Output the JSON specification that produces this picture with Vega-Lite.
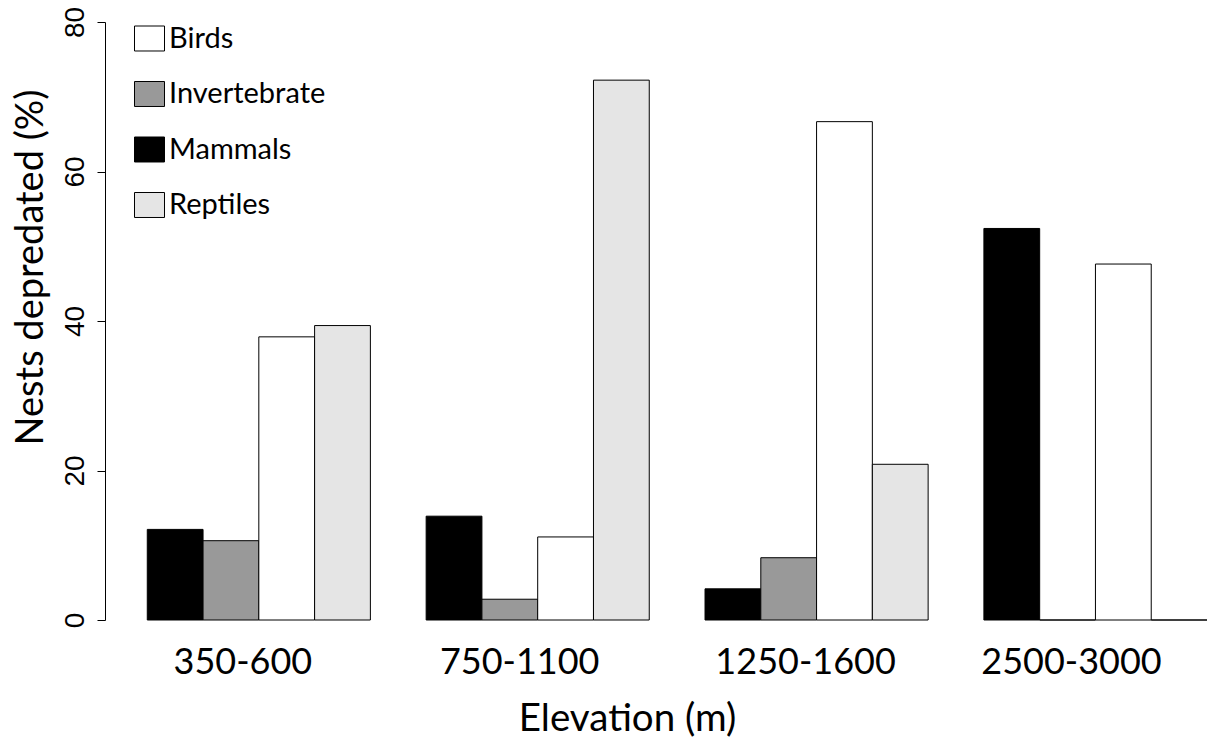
{
  "$schema": "https://vega.github.io/schema/vega-lite/v6.json",
  "width": 1102,
  "height": 598,
  "autosize": {"type": "none"},
  "padding": {"left": 105, "top": 22, "right": 0, "bottom": 125},
  "background": "white",
  "config": {
    "view": {"stroke": null},
    "font": "Lato"
  },
  "data": {
    "values": [
      {"elevation": "350-600", "predator": "Mammals", "pct": 12.12},
      {"elevation": "350-600", "predator": "Invertebrate", "pct": 10.61},
      {"elevation": "350-600", "predator": "Birds", "pct": 37.88},
      {"elevation": "350-600", "predator": "Reptiles", "pct": 39.39},
      {"elevation": "750-1100", "predator": "Mammals", "pct": 13.89},
      {"elevation": "750-1100", "predator": "Invertebrate", "pct": 2.78},
      {"elevation": "750-1100", "predator": "Birds", "pct": 11.11},
      {"elevation": "750-1100", "predator": "Reptiles", "pct": 72.22},
      {"elevation": "1250-1600", "predator": "Mammals", "pct": 4.17},
      {"elevation": "1250-1600", "predator": "Invertebrate", "pct": 8.33},
      {"elevation": "1250-1600", "predator": "Birds", "pct": 66.67},
      {"elevation": "1250-1600", "predator": "Reptiles", "pct": 20.83},
      {"elevation": "2500-3000", "predator": "Mammals", "pct": 52.38},
      {"elevation": "2500-3000", "predator": "Invertebrate", "pct": 0},
      {"elevation": "2500-3000", "predator": "Birds", "pct": 47.62},
      {"elevation": "2500-3000", "predator": "Reptiles", "pct": 0}
    ]
  },
  "mark": {"type": "bar", "stroke": "#000000", "strokeWidth": 1},
  "encoding": {
    "x": {
      "field": "elevation",
      "type": "nominal",
      "sort": ["350-600", "750-1100", "1250-1600", "2500-3000"],
      "scale": {"paddingInner": 0.2, "paddingOuter": 0.0758, "align": 1},
      "axis": {
        "title": "Elevation (m)",
        "titleFont": "Lato",
        "titleFontSize": 38.5,
        "titleFontWeight": "normal",
        "titleColor": "#000000",
        "titleAnchor": null,
        "titleAlign": "center",
        "titleBaseline": "alphabetic",
        "titleX": 522,
        "titleY": 110,
        "domain": false,
        "ticks": false,
        "tickSize": 0,
        "labelAngle": 0,
        "labelFont": "Lato",
        "labelFontSize": 36,
        "labelColor": "#000000",
        "labelBaseline": "alphabetic",
        "labelPadding": 53,
        "labelLimit": 0,
        "labelOverlap": false,
        "labelOffset": {
          "condition": [
            {"test": "datum.value === '350-600'", "value": -16},
            {"test": "datum.value === '750-1100'", "value": -18},
            {"test": "datum.value === '1250-1600'", "value": -11}
          ],
          "value": -24
        }
      }
    },
    "xOffset": {
      "field": "predator",
      "type": "nominal",
      "sort": ["Mammals", "Invertebrate", "Birds", "Reptiles"],
      "scale": {"paddingInner": 0, "paddingOuter": 0}
    },
    "y": {
      "field": "pct",
      "type": "quantitative",
      "scale": {"domain": [0, 80], "nice": false, "zero": true},
      "axis": {
        "title": "Nests depredated (%)",
        "titleFont": "Lato",
        "titleFontSize": 38,
        "titleFontWeight": "normal",
        "titleColor": "#000000",
        "titleAngle": -90,
        "titleAnchor": null,
        "titleAlign": "center",
        "titleBaseline": "alphabetic",
        "titleX": -63,
        "titleY": 245,
        "values": [0, 20, 40, 60, 80],
        "grid": false,
        "domainColor": "#000000",
        "domainWidth": 1,
        "tickColor": "#000000",
        "tickSize": 8,
        "tickWidth": 1,
        "labelAngle": -90,
        "labelAlign": "center",
        "labelBaseline": "alphabetic",
        "labelPadding": 14,
        "labelFont": "Liberation Sans",
        "labelFontSize": 28,
        "labelColor": "#000000",
        "labelFlush": false,
        "labelOverlap": false
      }
    },
    "color": {
      "field": "predator",
      "type": "nominal",
      "scale": {
        "domain": ["Birds", "Invertebrate", "Mammals", "Reptiles"],
        "range": ["#ffffff", "#999999", "#000000", "#e5e5e5"]
      },
      "legend": {
        "title": null,
        "orient": "none",
        "legendX": 29,
        "legendY": 1,
        "padding": 0,
        "symbolType": "M-1,-0.833H1V0.833H-1Z",
        "symbolSize": 900,
        "symbolStrokeColor": "#000000",
        "symbolStrokeWidth": 1,
        "symbolOpacity": 1,
        "labelFont": "Lato",
        "labelFontSize": 29,
        "labelColor": "#000000",
        "labelOffset": 4,
        "labelLimit": 0,
        "rowPadding": 24.5
      }
    }
  }
}
